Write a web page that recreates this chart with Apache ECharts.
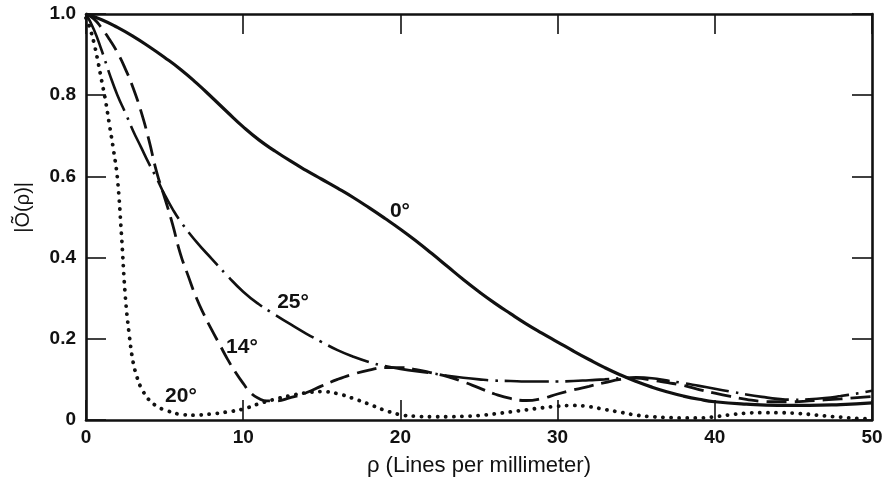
<!DOCTYPE html>
<html>
<head>
<meta charset="utf-8">
<script src="https://cdn.jsdelivr.net/npm/echarts@6/dist/echarts.min.js"></script>
<style>
  html, body { margin: 0; padding: 0; background: #ffffff; }
  #chart { width: 895px; height: 486px; }
</style>
</head>
<body>
<div id="chart"></div>
<script>
// Modulus of the optical transfer function |Õ(ρ)| versus spatial frequency ρ
// for four tilt angles.

const xTicks = [0, 10, 20, 30, 40, 50];
const yTicks = [0, 0.2, 0.4, 0.6, 0.8, 1.0];

// 0 degrees (solid)
const rho0 = [0, 1, 2, 3, 4, 5, 6, 7, 8, 9, 10, 11, 12, 13, 14, 15, 16, 17, 18, 19, 20,
  21, 22, 23, 24, 25, 26, 27, 28, 29, 30, 31, 32, 33, 34, 35, 36, 37, 38, 39, 40,
  42, 44, 46, 48, 50];
const mtf0 = [1.0, 0.986, 0.967, 0.945, 0.92, 0.893, 0.864, 0.831, 0.795, 0.758, 0.722,
  0.69, 0.663, 0.638, 0.615, 0.593, 0.571, 0.548, 0.523, 0.497, 0.47,
  0.441, 0.41, 0.378, 0.346, 0.316, 0.288, 0.262, 0.237, 0.214, 0.192,
  0.17, 0.149, 0.129, 0.111, 0.095, 0.081, 0.069, 0.059, 0.051, 0.045,
  0.039, 0.036, 0.036, 0.038, 0.042];

// 25 degrees (dash-dot)
const rho25 = [0, 0.5, 1, 1.5, 2, 2.5, 3, 3.5, 4, 4.5, 5, 5.5, 6, 7, 8, 9, 10,
  11, 12, 13, 14, 15, 16, 17, 18, 19, 20, 21, 22, 23, 24, 25, 26, 27, 28, 29, 30,
  31, 32, 33, 34, 35, 36, 37, 38, 39, 40, 41, 42, 43, 44, 45, 46, 47, 48, 49, 50];
const mtf25 = [1.0, 0.962, 0.91, 0.852, 0.8, 0.757, 0.712, 0.672, 0.632, 0.595, 0.555, 0.52, 0.49,
  0.44, 0.397, 0.355, 0.316, 0.285, 0.26, 0.236, 0.213, 0.192, 0.172, 0.156, 0.143, 0.133,
  0.126, 0.12, 0.115, 0.109, 0.104, 0.1, 0.097, 0.096, 0.095, 0.095, 0.095,
  0.096, 0.098, 0.1, 0.103, 0.105, 0.103, 0.097, 0.091, 0.084, 0.077,
  0.07, 0.063, 0.057, 0.052, 0.05, 0.051, 0.054, 0.059, 0.065, 0.072];

// 14 degrees (dashed)
const rho14 = [0, 0.5, 1, 1.5, 2, 2.5, 3, 3.5, 4, 4.5, 5, 5.5, 6, 6.5, 7, 7.5, 8, 8.5, 9, 9.5,
  10, 10.5, 11, 11.5, 12, 13, 14, 15, 16, 17, 18, 19, 20, 21, 22, 23, 24, 25, 26, 27, 28,
  29, 30, 31, 32, 33, 34, 35, 36, 37, 38, 39, 40, 41, 42, 43, 44, 45, 46, 48, 50];
const mtf14 = [1.0, 0.988, 0.965, 0.937, 0.905, 0.865, 0.818, 0.76, 0.69, 0.61, 0.548, 0.483,
  0.41, 0.355, 0.303, 0.26, 0.222, 0.186, 0.15, 0.118, 0.09, 0.066, 0.053, 0.047, 0.047,
  0.055, 0.067, 0.084, 0.1, 0.113, 0.123, 0.129, 0.129, 0.124, 0.116, 0.107, 0.094, 0.079,
  0.064, 0.053, 0.048, 0.053, 0.064, 0.074, 0.083, 0.092, 0.1, 0.103, 0.098, 0.092, 0.085,
  0.075, 0.066, 0.058, 0.051, 0.046, 0.045, 0.045, 0.047, 0.052, 0.058];

// 20 degrees (dotted)
const rho20 = [0, 0.25, 0.5, 0.75, 1, 1.25, 1.5, 1.75, 2, 2.25, 2.5, 2.75, 3, 3.25, 3.5, 4, 4.5,
  5, 6, 7, 8, 9, 10, 11, 12, 13, 14, 15, 16, 17, 18, 19, 20, 21, 22, 23, 24, 25, 26, 27,
  28, 29, 30, 31, 32, 33, 34, 35, 36, 37, 38, 39, 40, 41, 42, 43, 44, 45, 46, 47, 48, 49, 50];
const mtf20 = [0.99, 0.965, 0.93, 0.885, 0.835, 0.785, 0.725, 0.665, 0.595, 0.46, 0.305, 0.21,
  0.142, 0.105, 0.08, 0.05, 0.034, 0.025, 0.014, 0.012, 0.015, 0.02, 0.027, 0.04, 0.051,
  0.06, 0.067, 0.07, 0.065, 0.053, 0.039, 0.024, 0.013, 0.009, 0.008, 0.008, 0.009, 0.011,
  0.015, 0.02, 0.025, 0.03, 0.034, 0.036, 0.033, 0.026, 0.019, 0.012, 0.008, 0.006, 0.005,
  0.005, 0.008, 0.013, 0.017, 0.018, 0.018, 0.017, 0.014, 0.01, 0.007, 0.004, 0.003];

// Curve captions, anchored in data coordinates
const curveNames = ['0°', '25°', '14°', '20°'];
const captionAt = [[19.97, 0.514], [13.17, 0.289], [9.92, 0.18], [6.04, 0.059]];

const INK = '#111111';
const FONT = '"Liberation Sans", Arial, sans-serif';

const zip = (xs, ys) => xs.map((x, i) => [x, ys[i]]);

function caption(i) {
  return {
    symbol: 'circle',
    symbolSize: 0,
    silent: true,
    label: {
      show: true,
      position: 'inside',
      formatter: curveNames[i],
      color: INK,
      fontFamily: FONT,
      fontSize: 21,
      fontWeight: 'bold'
    },
    data: [{ coord: captionAt[i] }]
  };
}

function curve(i, xs, ys, lineStyle, smooth) {
  return {
    name: curveNames[i],
    type: 'line',
    data: zip(xs, ys),
    showSymbol: false,
    smooth: smooth,
    lineStyle: Object.assign({ color: INK }, lineStyle),
    markPoint: caption(i),
    z: 3
  };
}

const tickFmt = v => (v === 0 ? '0' : v.toFixed(1));

// Axis lines stay on the frame edges (never shifted to the zero of the other axis)
const axisLine = { show: true, onZero: false, lineStyle: { color: INK, width: 2.6 } };
const inTick = { show: true, inside: true, length: 20, lineStyle: { color: INK, width: 1.6 } };
const labelStyle = { color: INK, fontFamily: FONT, fontSize: 19, fontWeight: 'bold' };

const chart = echarts.init(document.getElementById('chart'), null, { renderer: 'canvas' });

chart.setOption({
  animation: false,
  backgroundColor: '#ffffff',
  grid: { left: 86, right: 23, top: 14, bottom: 66 },
  xAxis: [
    {
      type: 'value', position: 'bottom',
      min: xTicks[0], max: xTicks[xTicks.length - 1], interval: xTicks[1] - xTicks[0],
      axisLine: axisLine, axisTick: inTick,
      axisLabel: Object.assign({ margin: 8 }, labelStyle),
      splitLine: { show: false },
      name: 'ρ (Lines per millimeter)',
      nameLocation: 'middle',
      nameGap: 35,
      nameTextStyle: { color: INK, fontFamily: FONT, fontSize: 22 }
    },
    {
      type: 'value', position: 'top',
      min: xTicks[0], max: xTicks[xTicks.length - 1], interval: xTicks[1] - xTicks[0],
      axisLine: axisLine, axisTick: inTick,
      axisLabel: { show: false }, splitLine: { show: false }
    }
  ],
  yAxis: [
    {
      type: 'value', position: 'left',
      min: yTicks[0], max: yTicks[yTicks.length - 1], interval: yTicks[1] - yTicks[0],
      axisLine: axisLine, axisTick: inTick,
      axisLabel: Object.assign({ margin: 10, formatter: tickFmt }, labelStyle),
      splitLine: { show: false }
    },
    {
      type: 'value', position: 'right',
      min: yTicks[0], max: yTicks[yTicks.length - 1], interval: yTicks[1] - yTicks[0],
      axisLine: axisLine, axisTick: inTick,
      axisLabel: { show: false }, splitLine: { show: false }
    }
  ],
  graphic: [
    {
      type: 'text',
      left: 13,
      top: 182,
      rotation: Math.PI / 2,
      originX: 0, originY: 0,
      style: {
        text: '|Õ(ρ)|',
        fill: INK,
        font: '20px "Liberation Sans", Arial, sans-serif',
        textAlign: 'center',
        textVerticalAlign: 'middle'
      }
    }
  ],
  series: [
    curve(0, rho0, mtf0, { width: 3.2, type: 'solid' }, 0.5),
    curve(1, rho25, mtf25, { width: 2.6, type: [44, 7, 2.5, 7] }, 0.5),
    curve(2, rho14, mtf14, { width: 2.8, type: [20, 8] }, 0.5),
    curve(3, rho20, mtf20, { width: 3.8, type: [0.1, 8], cap: 'round' }, 0.4)
  ]
});
</script>
</body>
</html>
